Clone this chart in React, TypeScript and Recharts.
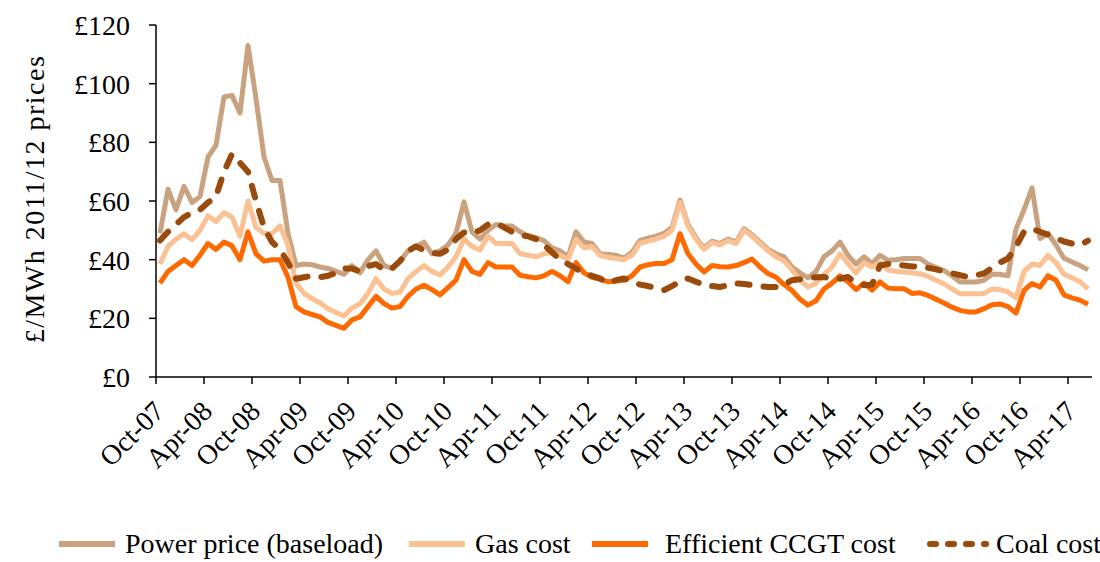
import React from "react";
import { LineChart, Line, XAxis, YAxis } from "recharts";

const months = [
  "Oct-07", "Nov-07", "Dec-07",
  "Jan-08", "Feb-08", "Mar-08", "Apr-08", "May-08", "Jun-08", "Jul-08", "Aug-08", "Sep-08", "Oct-08", "Nov-08", "Dec-08",
  "Jan-09", "Feb-09", "Mar-09", "Apr-09", "May-09", "Jun-09", "Jul-09", "Aug-09", "Sep-09", "Oct-09", "Nov-09", "Dec-09",
  "Jan-10", "Feb-10", "Mar-10", "Apr-10", "May-10", "Jun-10", "Jul-10", "Aug-10", "Sep-10", "Oct-10", "Nov-10", "Dec-10",
  "Jan-11", "Feb-11", "Mar-11", "Apr-11", "May-11", "Jun-11", "Jul-11", "Aug-11", "Sep-11", "Oct-11", "Nov-11", "Dec-11",
  "Jan-12", "Feb-12", "Mar-12", "Apr-12", "May-12", "Jun-12", "Jul-12", "Aug-12", "Sep-12", "Oct-12", "Nov-12", "Dec-12",
  "Jan-13", "Feb-13", "Mar-13", "Apr-13", "May-13", "Jun-13", "Jul-13", "Aug-13", "Sep-13", "Oct-13", "Nov-13", "Dec-13",
  "Jan-14", "Feb-14", "Mar-14", "Apr-14", "May-14", "Jun-14", "Jul-14", "Aug-14", "Sep-14", "Oct-14", "Nov-14", "Dec-14",
  "Jan-15", "Feb-15", "Mar-15", "Apr-15", "May-15", "Jun-15", "Jul-15", "Aug-15", "Sep-15", "Oct-15", "Nov-15", "Dec-15",
  "Jan-16", "Feb-16", "Mar-16", "Apr-16", "May-16", "Jun-16", "Jul-16", "Aug-16", "Sep-16", "Oct-16", "Nov-16", "Dec-16",
  "Jan-17", "Feb-17", "Mar-17", "Apr-17", "May-17", "Jun-17",
];

// £/MWh, 2011/12 prices
const power = [
  49, 64, 57, 65, 59.5, 61.5, 75, 79, 95.5, 96,
  90, 113, 95, 75, 67, 67, 49, 38, 38.5, 38.3,
  37.5, 37, 36, 35, 38, 35.5, 40, 43, 38, 37,
  39.5, 43, 44.5, 46, 42, 43, 45, 49, 59.7, 49.5,
  47, 50, 52, 51.5, 51.5, 49.5, 48, 47.5, 46.5, 44,
  43, 41, 49.5, 46, 45.5, 42, 41.8, 41.5, 40.5, 42.5,
  46.6, 47.3, 48, 49, 51, 60.3, 52, 47.5, 44, 46.3,
  45.5, 47, 46, 50.5, 48.5, 46, 43.5, 42, 41, 37.5,
  35.5, 33.8, 36, 41, 43, 46, 41.5, 38.5, 41, 38.7,
  41.5, 39.8, 40, 40.4, 40.4, 40.4, 38.5, 37.3, 36.3, 34.5,
  32.4, 32.4, 32.4, 33, 35, 35, 34.5, 50.5, 57, 64.5,
  47.2, 49, 45, 40.5, 39.2, 38, 36.5,
];

const gas = [
  38.5, 44.5, 47, 48.8, 46.8, 50, 55, 53, 56, 54.5,
  48, 60, 51, 49, 48.9, 51.5, 45, 32, 28.5, 26.7,
  25.3, 23.3, 22, 20.8, 23.5, 25, 28.5, 33.5, 30, 28.5,
  29, 33.5, 36, 38, 36, 34.8, 37.5, 41, 47, 44.5,
  43.3, 48, 45.5, 45.5, 45.5, 42, 41.5, 41, 42, 42.5,
  41.5, 40, 47, 44, 44.5, 41.5, 40.8, 40.4, 40, 41.5,
  45.6, 46.3, 47, 48, 50, 59.5, 51.5, 47, 43.5, 45.8,
  45, 46.5, 45.5, 50, 48, 45.5, 43, 41, 39.5, 36.5,
  33, 30.7, 32, 35, 37.5, 42, 38.7, 35.5, 39, 37.5,
  39, 36.5, 36, 35.8, 35.5, 35.2, 34.3, 33, 31.8, 30,
  28.4, 28.4, 28.4, 28.5, 30, 29.8, 29, 27, 36, 38.5,
  38, 41.5, 39, 35, 33.8, 32.5, 30,
];

const ccgt = [
  32, 36, 38, 40, 38, 41.5, 45.5, 43.5, 46, 44.7,
  40, 49.5, 42, 39.5, 40, 40, 34, 24, 22.2, 21.3,
  20.5, 18.6, 17.6, 16.6, 19.5, 20.5, 24, 27.5, 25, 23.5,
  24, 27.5, 30, 31.3, 29.8, 28, 30.5, 33, 40, 36,
  35, 39, 37.5, 37.5, 37.5, 34.7, 34.2, 33.8, 34.5, 36,
  34.5, 32.5, 39, 35.5, 34, 33.3, 32.5, 32.7, 33, 34.5,
  37.5, 38.3, 38.7, 38.7, 40, 48.9, 42, 38.5, 35.8, 38,
  37.6, 37.5, 38, 39, 40.2, 37.5, 35.3, 34, 31.5, 29.5,
  26.5, 24.5, 26, 30, 32, 34.5, 32.5, 29.8, 32, 29.6,
  32.4, 30.3, 30.1, 30.1, 28.5, 28.7, 27.8, 26.5, 25.2, 23.8,
  22.7, 22.2, 22.2, 23.3, 24.6, 24.9, 24, 21.8, 29.5, 31.9,
  30.7, 34.5, 33, 28, 27, 26.2, 24.8,
];

const coal = [
  46.5, 49.5, 52, 54.5, 56, 57, 59.5, 61.5, 70, 76,
  73, 70, 60, 51, 46, 43.5, 39, 33.5, 34, 34.5,
  34, 34.5, 35.5, 37, 37, 36, 37.8, 38.5, 36.5, 37,
  39.5, 43, 44.5, 43.3, 42.3, 42, 43.5, 47, 49.3, 49,
  50, 52, 52.5, 51, 49.5, 48.4, 48, 47, 45, 42.5,
  40, 38.5, 37, 35.5, 34.5, 33.6, 32, 33, 33.6, 32.5,
  31.5, 31, 30.3, 29.6, 31, 32.5, 33.6, 32.5, 31.3, 31,
  30.7, 31.3, 31.9, 31.7, 31.3, 31, 30.7, 30.7, 31.5, 33,
  33.3, 33.6, 34, 34.1, 33.5, 33.5, 34.1, 32, 31.3, 31.5,
  38, 38.5, 38.3, 38, 37.7, 37.5, 37.2, 36.7, 36, 35.4,
  34.7, 34.1, 34.7, 35.3, 37.2, 39, 40.4, 44.5, 49.5, 50.6,
  49.5, 48.5, 47.3, 46.2, 45.5, 45, 46.5,
];

const xTicks = [0, 6, 12, 18, 24, 30, 36, 42, 48, 54, 60, 66, 72, 78, 84, 90, 96, 102, 108, 114];
const yTicks = [0, 20, 40, 60, 80, 100, 120];

const data = months.map((m, i) => ({
  month: m,
  x: i + 0.5,
  power: power[i],
  gas: gas[i],
  ccgt: ccgt[i],
  coal: coal[i],
}));

const FONT = '"Liberation Serif", "Times New Roman", serif';
const C_POWER = "#C9A280";
const C_GAS = "#FBC192";
const C_CCGT = "#FF6A00";
const C_COAL = "#9A4A0A";

const XTick = ({ x, y, payload }: any) => (
  <g transform={`translate(${x + 3},${y + 20})`}>
    <text
      textAnchor="end"
      dy="0.35em"
      transform="rotate(-45)"
      fontSize={28}
      fontFamily={FONT}
      fill="#000"
    >
      {months[payload.value]}
    </text>
  </g>
);

const YLabel = ({ viewBox }: any) => {
  const cx = 34;
  const cy = viewBox.y + viewBox.height / 2 - 2;
  return (
    <text
      x={cx}
      y={cy}
      transform={`rotate(-90 ${cx} ${cy})`}
      textAnchor="middle"
      dominantBaseline="central"
      fontSize={28}
      letterSpacing={1.5}
      fontFamily={FONT}
      fill="#000"
    >
      £/MWh 2011/12 prices
    </text>
  );
};

const legendItems = [
  { name: "Power price (baseload)", color: C_POWER, left: 55, dash: "" },
  { name: "Gas cost", color: C_GAS, left: 405, dash: "" },
  { name: " Efficient CCGT cost", color: C_CCGT, left: 588, dash: "" },
  { name: "Coal cost", color: C_COAL, left: 926, dash: "6 12" },
];

const App = () => {
  return (
    <div style={{ position: "absolute", left: 0, top: 0, width: 1100, height: 562, background: "#fff" }}>
      <LineChart
        width={1100}
        height={562}
        data={data}
        margin={{ top: 25, right: 8, left: 0, bottom: 75 }}
      >
        <XAxis
          dataKey="x"
          type="number"
          domain={[0, 117]}
          ticks={xTicks}
          interval={0}
          height={110}
          tick={<XTick />}
          tickSize={7}
          axisLine={{ stroke: "#000", strokeWidth: 1.5 }}
          tickLine={{ stroke: "#000", strokeWidth: 1.5 }}
        />
        <YAxis
          domain={[0, 120]}
          ticks={yTicks}
          width={156}
          tickSize={7}
          tickMargin={19}
          tickFormatter={(v: number) => `£${v}`}
          tick={{ fontSize: 28, fontFamily: FONT, fill: "#000" }}
          axisLine={{ stroke: "#000", strokeWidth: 1.5 }}
          tickLine={{ stroke: "#000", strokeWidth: 1.5 }}
          label={<YLabel />}
        />
        <Line type="linear" dataKey="power" name="Power price (baseload)" stroke={C_POWER} strokeWidth={5} dot={false} strokeLinejoin="round" isAnimationActive={false} />
        <Line type="linear" dataKey="gas" name="Gas cost" stroke={C_GAS} strokeWidth={5} dot={false} strokeLinejoin="round" isAnimationActive={false} />
        <Line type="linear" dataKey="ccgt" name="Efficient CCGT cost" stroke={C_CCGT} strokeWidth={5} dot={false} strokeLinejoin="round" isAnimationActive={false} />
        <Line type="linear" dataKey="coal" name="Coal cost" stroke={C_COAL} strokeWidth={6} strokeDasharray="12 14" strokeLinecap="round" dot={false} strokeLinejoin="round" isAnimationActive={false} />
      </LineChart>
      {legendItems.map((it) => (
        <div
          key={it.name}
          style={{
            position: "absolute",
            left: it.left,
            top: 528,
            display: "flex",
            alignItems: "center",
            fontFamily: FONT,
            fontSize: 28,
            color: "#000",
            whiteSpace: "pre",
          }}
        >
          <svg width={64} height={12} style={{ marginRight: 6 }}>
            <line
              x1={4}
              y1={6}
              x2={60}
              y2={6}
              stroke={it.color}
              strokeWidth={6}
              strokeDasharray={it.dash || undefined}
              strokeLinecap={it.dash ? "round" : "butt"}
            />
          </svg>
          <span>{it.name}</span>
        </div>
      ))}
    </div>
  );
};

export default App;
